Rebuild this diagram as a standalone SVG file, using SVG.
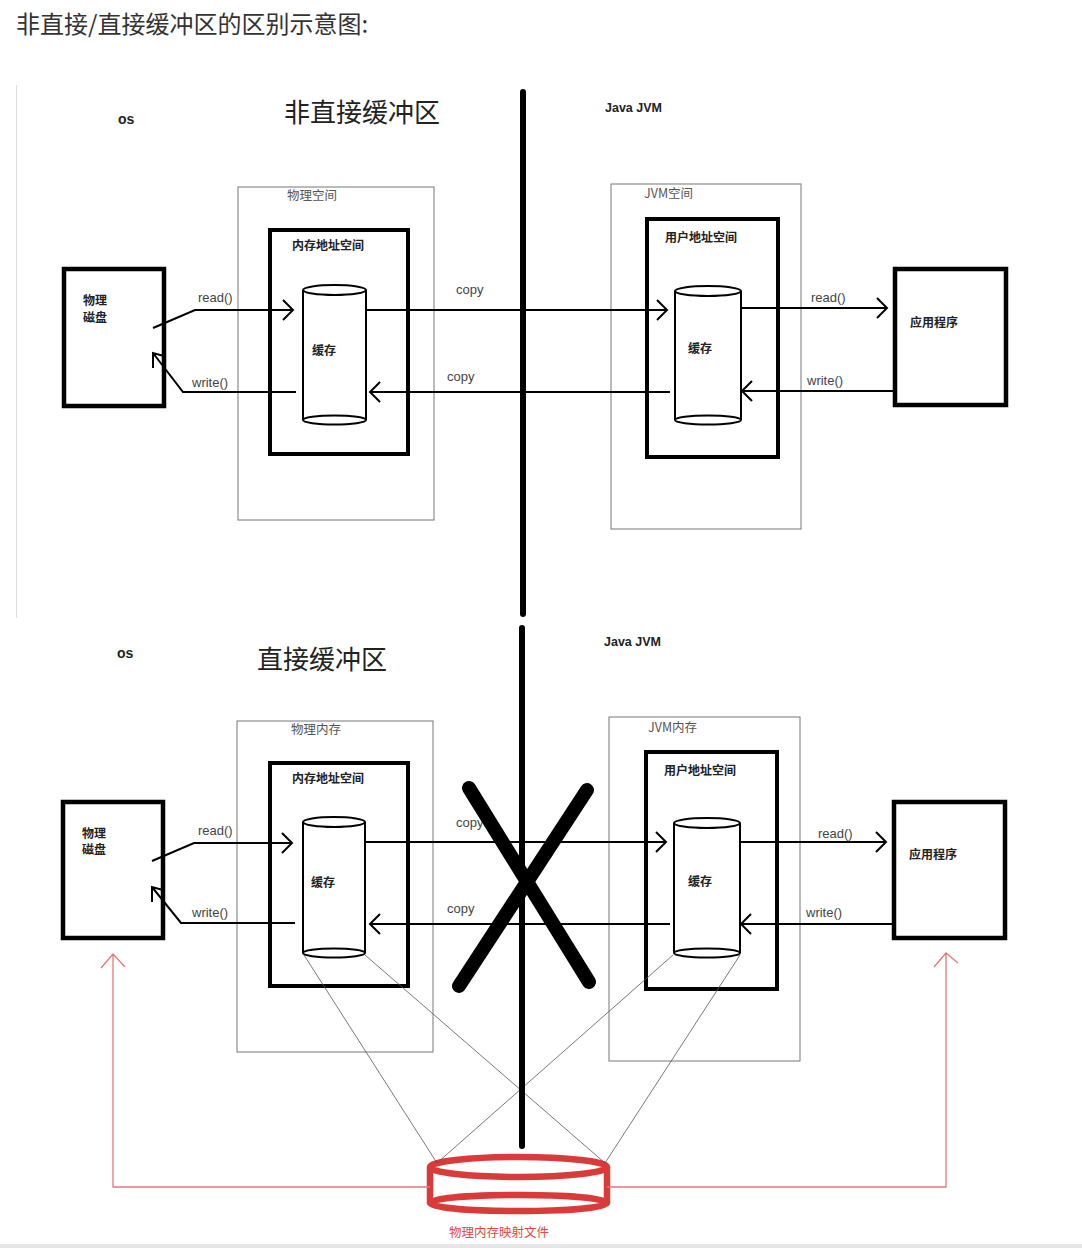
<svg xmlns="http://www.w3.org/2000/svg" width="1082" height="1248" viewBox="0 0 1082 1248">
<defs>
<style>
.title{font-family:"Noto Sans CJK SC","Noto Sans",sans-serif;fill:#333}
.big{font-family:"Noto Sans CJK SC","Noto Sans",sans-serif;font-size:26px;fill:#222}
.os{font-family:"Liberation Sans","Noto Sans CJK SC",sans-serif;font-size:14px;font-weight:bold;fill:#222}
.jvm{font-family:"Liberation Sans","Noto Sans CJK SC",sans-serif;font-size:12.5px;font-weight:bold;fill:#222}
.cn{font-family:"Noto Sans CJK SC",sans-serif;font-size:12px;font-weight:bold;fill:#222}
.cnl{font-family:"Noto Sans CJK SC",sans-serif;font-size:12.5px;fill:#555}
.lbl{font-family:"Liberation Sans","Noto Sans",sans-serif;font-size:13px;fill:#444}
.thin{fill:none;stroke:#777;stroke-width:1}
.thick{fill:#fff;stroke:#000;stroke-width:4}
.box{fill:#fff;stroke:#000;stroke-width:4.5}
.cyl{fill:#fff;stroke:#000;stroke-width:2}
.ln{fill:none;stroke:#000;stroke-width:2}
.gl{fill:none;stroke:#555;stroke-width:0.8}
.div{stroke:#000;stroke-width:6;stroke-linecap:round}
.xx{stroke:#000;stroke-width:14;stroke-linecap:round}
.red{fill:none;stroke:#d93a3a;stroke-width:6.5}
.rl{fill:none;stroke:#e07a7a;stroke-width:1.3}
.rt{font-family:"Noto Sans CJK SC",sans-serif;font-size:12.5px;fill:#e04848}
</style>
</defs>
<rect width="1082" height="1248" fill="#fff"/>
<rect x="0" y="1244" width="1082" height="4" fill="#e6e6e6"/>
<line x1="16.5" y1="85" x2="16.5" y2="618" stroke="#ddd" stroke-width="1"/>
<text class="title" x="16" y="33" font-size="24">非直接/直接缓冲区的区别示意图:</text>

<!-- ===== TOP PANEL ===== -->
<g id="top-labels">
<text class="os" x="118" y="124">os</text>
<text class="big" x="284" y="122">非直接缓冲区</text>
<text class="jvm" x="605" y="112">Java JVM</text>
</g>
<g id="top-phys-space">
<rect class="thin" x="238" y="187" width="196" height="333"/>
<text class="cnl" x="287" y="200">物理空间</text>
</g>
<g id="top-mem-addr">
<rect class="thick" x="270" y="230" width="138" height="224"/>
<text class="cn" x="292" y="250">内存地址空间</text>
</g>
<g id="top-cache-left">
<path class="cyl" d="M303,290 L303,420 M366,290 L366,420"/>
<ellipse class="cyl" cx="334.5" cy="290" rx="31.5" ry="5"/>
<ellipse class="cyl" cx="334.5" cy="420" rx="31.5" ry="4.5" stroke-width="2.5"/>
<text class="cn" x="312" y="355">缓存</text>
</g>
<g id="top-disk">
<rect class="box" x="64" y="269" width="100" height="137"/>
<text class="cn" x="83" y="305">物理</text>
<text class="cn" x="83" y="322">磁盘</text>
</g>
<g id="top-jvm-space">
<rect class="thin" x="611" y="184" width="190" height="345"/>
<text class="cnl" x="644" y="198">JVM空间</text>
</g>
<g id="top-user-addr">
<rect class="thick" x="647" y="219" width="131" height="238"/>
<text class="cn" x="665" y="242">用户地址空间</text>
</g>
<g id="top-cache-right">
<path class="cyl" d="M675,291 L675,420 M741,291 L741,420"/>
<ellipse class="cyl" cx="708" cy="291" rx="33" ry="5"/>
<ellipse class="cyl" cx="708" cy="420" rx="33" ry="4.5" stroke-width="2.5"/>
<text class="cn" x="688" y="353">缓存</text>
</g>
<g id="top-app">
<rect class="box" x="895" y="269" width="111" height="136"/>
<text class="cn" x="910" y="327">应用程序</text>
</g>

<!-- ===== BOTTOM PANEL ===== -->
<g id="bottom-labels">
<text class="os" x="117" y="658">os</text>
<text class="big" x="257" y="669">直接缓冲区</text>
<text class="jvm" x="604" y="646">Java JVM</text>
</g>
<g id="bottom-phys-mem">
<rect class="thin" x="237" y="721" width="196" height="331"/>
<text class="cnl" x="291" y="734">物理内存</text>
</g>
<g id="bottom-mem-addr">
<rect class="thick" x="270" y="763" width="138" height="223"/>
<text class="cn" x="292" y="783">内存地址空间</text>
</g>
<g id="bottom-cache-left">
<path class="cyl" d="M303,822 L303,953 M365,822 L365,953"/>
<ellipse class="cyl" cx="334" cy="822" rx="31" ry="5"/>
<ellipse class="cyl" cx="334" cy="953" rx="31" ry="4.5" stroke-width="2.5"/>
<text class="cn" x="311" y="887">缓存</text>
</g>
<g id="bottom-disk">
<rect class="box" x="63" y="802" width="100" height="136"/>
<text class="cn" x="82" y="838">物理</text>
<text class="cn" x="82" y="854">磁盘</text>
</g>
<g id="bottom-jvm-mem">
<rect class="thin" x="609" y="717" width="191" height="344"/>
<text class="cnl" x="648" y="732">JVM内存</text>
</g>
<g id="bottom-user-addr">
<rect class="thick" x="646" y="752" width="131" height="237"/>
<text class="cn" x="664" y="775">用户地址空间</text>
</g>
<g id="bottom-cache-right">
<path class="cyl" d="M674,823 L674,953 M740,823 L740,953"/>
<ellipse class="cyl" cx="707" cy="823" rx="33" ry="5"/>
<ellipse class="cyl" cx="707" cy="953" rx="33" ry="4.5" stroke-width="2.5"/>
<text class="cn" x="688" y="886">缓存</text>
</g>
<g id="bottom-app">
<rect class="box" x="894" y="802" width="111" height="136"/>
<text class="cn" x="909" y="859">应用程序</text>
</g>
<g id="mapped-file">
<path class="red" d="M430,1167 L430,1203 M607,1167 L607,1203"/>
<ellipse class="red" cx="518.5" cy="1167" rx="88.5" ry="10"/>
<ellipse class="red" cx="518.5" cy="1203" rx="88.5" ry="8"/>
<text class="rt" x="449" y="1237">物理内存映射文件</text>
</g>

<!-- ===== CONNECTORS ===== -->
<g id="connectors">
<!-- top -->
<path class="ln" d="M153,328 L195,310 L293,310 M283,300 L293,310 L283,320"/>
<path class="ln" d="M296,392 L183,392 L153,353 M153,368 L153,353 L164,356"/>
<path class="ln" d="M366,310 L667,310 M657,300 L667,310 L657,320"/>
<path class="ln" d="M670,392 L370,392 M380,382 L370,392 L380,402"/>
<path class="ln" d="M741,308 L887,308 M877,298 L887,308 L877,318"/>
<path class="ln" d="M893,391 L742,391 M752,381 L742,391 L752,401"/>
<!-- bottom -->
<path class="ln" d="M152,861 L194,843 L292,843 M282,833 L292,843 L282,853"/>
<path class="ln" d="M295,923 L181,923 L152,887 M152,902 L152,887 L163,890"/>
<path class="ln" d="M365,842 L666,842 M656,832 L666,842 L656,852"/>
<path class="ln" d="M670,924 L370,924 M380,914 L370,924 L380,934"/>
<path class="ln" d="M740,842 L886,842 M876,832 L886,842 L876,852"/>
<path class="ln" d="M892,924 L741,924 M751,914 L741,924 L751,934"/>
<!-- mapping lines -->
<path class="gl" d="M304,955 L437,1163 M365,955 L605,1163 M673,955 L437,1163 M740,955 L605,1163"/>
<!-- red arrows -->
<path class="rl" d="M430,1187 L113,1187 L113,954 M101,968 L113,954 L125,967"/>
<path class="rl" d="M607,1187 L946,1187 L946,953 M934,967 L946,953 L958,963"/>
</g>

<g id="connector-labels">
<text class="lbl" x="198" y="302">read()</text>
<text class="lbl" x="192" y="387">write()</text>
<text class="lbl" x="456" y="294">copy</text>
<text class="lbl" x="447" y="381">copy</text>
<text class="lbl" x="811" y="302">read()</text>
<text class="lbl" x="807" y="385">write()</text>
<text class="lbl" x="198" y="835">read()</text>
<text class="lbl" x="192" y="917">write()</text>
<text class="lbl" x="456" y="827">copy</text>
<text class="lbl" x="447" y="913">copy</text>
<text class="lbl" x="818" y="838">read()</text>
<text class="lbl" x="806" y="917">write()</text>
</g>

<g id="dividers">
<line class="div" x1="523" y1="92" x2="523" y2="614"/>
<line class="div" x1="522" y1="628" x2="522" y2="1146"/>
<line class="xx" x1="469" y1="788" x2="589" y2="982"/>
<line class="xx" x1="587" y1="790" x2="459" y2="986"/>
</g>
</svg>
